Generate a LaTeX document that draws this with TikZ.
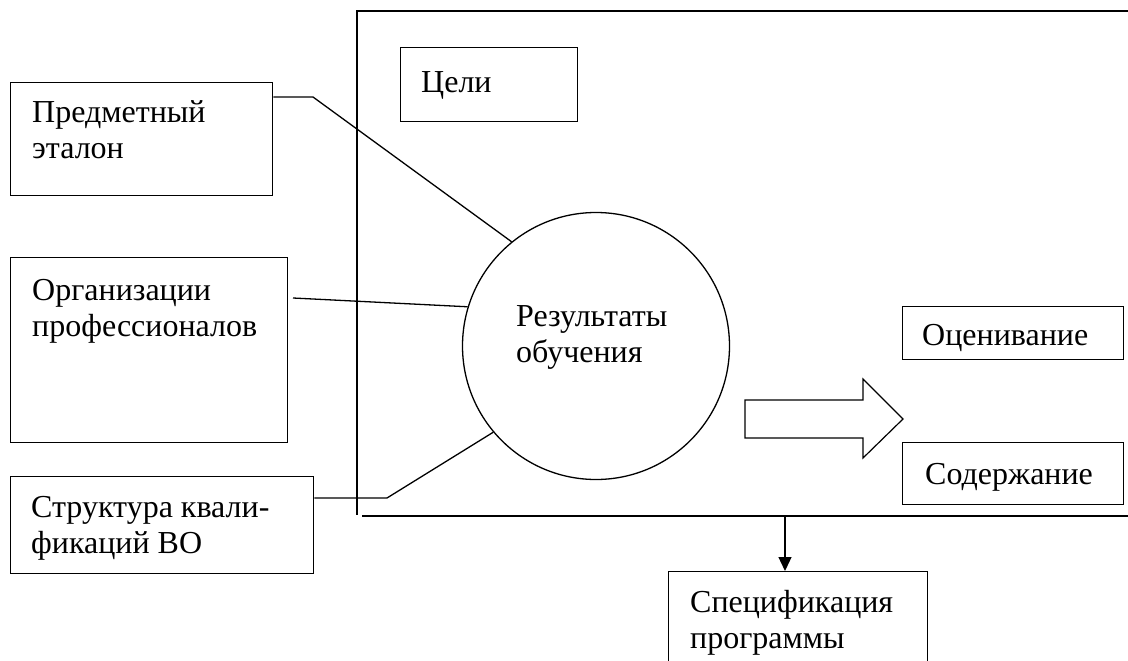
\documentclass[tikz,border=0pt]{standalone}
\usepackage{fontspec}
\setmainfont{Liberation Serif}
\newfontfamily\tnr{Liberation Serif}
\usetikzlibrary{arrows.meta}
\begin{document}
\begin{tikzpicture}[x=1pt,y=-1pt,
  box/.style={draw, line width=1.4pt, inner sep=0pt, anchor=north west},
  txt/.style={inner sep=0pt, anchor=north west, align=left, font=\tnr\fontsize{32}{36}\selectfont},
  conn/.style={line width=1.3pt},
  frameline/.style={line width=1.5pt},
]
\useasboundingbox (0,0) rectangle (1128,661);
\clip (0,0) rectangle (1128,661);
\fill[white] (0,0) rectangle (1128,661);

% frame
\draw[frameline] (1140,11) -- (357,11) -- (357,515);
\draw[frameline] (362,516) -- (1140,516);

% boxes
\node[box, minimum width=262pt, minimum height=113pt] (pred) at (10,82) {};
\node[box, minimum width=277pt, minimum height=185pt] (org) at (10,257) {};
\node[box, minimum width=303pt, minimum height=97pt] (str) at (10,476) {};
\node[box, minimum width=177pt, minimum height=74pt] (goal) at (400,47) {};
\node[box, minimum width=221pt, minimum height=53pt] (eval) at (902,306) {};
\node[box, minimum width=221pt, minimum height=62pt] (cont) at (902,442) {};
\node[box, minimum width=259pt, minimum height=130pt] (spec) at (668,571) {};

% circle
\node[draw, circle, line width=1.3pt, minimum size=267pt, inner sep=0pt] (res) at (596,346) {};

% texts
\node[txt] (predT) at (32,100) {Предметный\\эталон};
\node[txt] (orgT) at (32,279) {Организации\\профессионалов};
\node[txt] (strT) at (31,496) {Структура квали-\\фикаций ВО};
\node[txt] (goalT) at (421,71) {Цели};
\node[txt] (resT) at (516,305) {Результаты\\обучения};
\node[txt] (evalT) at (922,324) {Оценивание};
\node[txt] (contT) at (925,463) {Содержание};
\node[txt] (specT) at (690,590) {Спецификация\\программы};

% connectors
\coordinate (p1) at (313,97);
\draw[conn] (pred.east |- p1) -- (p1) -- (res.129);
\coordinate (o1) at (293,298);
\draw[conn] (o1) -- (res.163);
\coordinate (s1) at (387,498);
\draw[conn] (str.east |- s1) -- (s1) -- (res.220);

% block arrow
\draw[line width=1.2pt, fill=white] (745,400) -- (863,400) -- (863,379) -- (903,419)
  -- (863,458) -- (863,438) -- (745,438) -- cycle;

% down arrow to specification
\coordinate (a1) at (785,516);
\draw[conn, -{Triangle[length=14pt,width=13pt]}] (a1) -- (a1 |- spec.north);
\end{tikzpicture}
\end{document}
